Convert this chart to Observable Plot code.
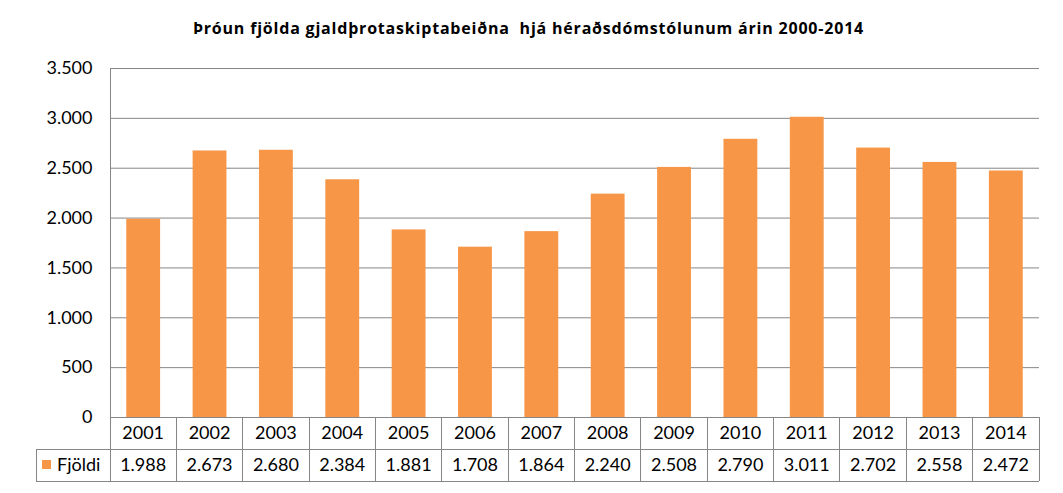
<!DOCTYPE html>
<html>
<head>
<meta charset="utf-8">
<script src="https://cdn.jsdelivr.net/npm/d3@7"></script>
<script src="https://cdn.jsdelivr.net/npm/@observablehq/plot@0.6"></script>
<style>
  html, body { margin: 0; padding: 0; background: #fff; }
  #title { height: 55px; box-sizing: border-box; padding-top: 18px; line-height: 20px; text-align: center; font-family: "Open Sans", Lato, sans-serif; font-weight: bold; font-size: 16px; letter-spacing: 0.8px; color: #000; padding-right: 6px; white-space: pre; }
  #chart svg { display: block; }
</style>
</head>
<body>
<div id="title">Þróun fjölda gjaldþrotaskiptabeiðna  hjá héraðsdómstólunum árin 2000-2014</div>
<div id="chart"></div>
<script>
const years = ["2001","2002","2003","2004","2005","2006","2007","2008","2009","2010","2011","2012","2013","2014"];
const counts = [1988, 2673, 2680, 2384, 1881, 1708, 1864, 2240, 2508, 2790, 3011, 2702, 2558, 2472];
const yTicks = [0, 500, 1000, 1500, 2000, 2500, 3000, 3500];
const seriesName = "Fjöldi";

const data = years.map((y, i) => ({year: y, value: counts[i]}));
const fmt = d3.formatLocale({decimal: ",", thousands: ".", grouping: [3], currency: ["", " kr"]}).format(",d");
const FONT = 'Lato, "Liberation Sans", sans-serif';
const FS = 18;
const GRID = "#868686";
const BAR = "#F79646";

const plot = Plot.plot({
  width: 1063,
  height: 438,
  marginTop: 13,
  marginBottom: 76,
  marginLeft: 110,
  marginRight: 24,
  style: {fontFamily: FONT, fontSize: FS + "px", color: "#000", background: "#fff"},
  x: {domain: years, paddingInner: 0.49, paddingOuter: 0.245, round: false, axis: null},
  y: {domain: [0, 3500], axis: null},
  marks: [
    Plot.gridY(yTicks, {stroke: GRID, strokeOpacity: 1, strokeWidth: 1}),
    Plot.barY(data, {x: "year", y: "value", fill: BAR}),
    Plot.frame({anchor: "left", stroke: GRID, strokeOpacity: 1}),
    Plot.axisY(yTicks, {tickFormat: fmt, tickSize: 0, tickPadding: 18, label: null, fontSize: FS})
  ]
});
document.getElementById("chart").appendChild(plot);

// Data table under the chart, positioned with the plot's own scales
const xs = plot.scale("x");
const ys = plot.scale("y");
const step = xs.step;
const x0 = xs.range[0];
const x1 = x0 + step * years.length;
const yBase = ys.apply(0);
const rowH = 32;
const legendLeft = 36;
const svg = d3.select(plot);
const g = svg.append("g").attr("stroke", GRID).attr("stroke-width", 1).attr("shape-rendering", "crispEdges");
g.append("line").attr("x1", x0).attr("x2", x1).attr("y1", yBase).attr("y2", yBase);
g.append("line").attr("x1", legendLeft).attr("x2", x1).attr("y1", yBase + rowH).attr("y2", yBase + rowH);
g.append("line").attr("x1", legendLeft).attr("x2", x1).attr("y1", yBase + 2 * rowH).attr("y2", yBase + 2 * rowH);
g.append("line").attr("x1", legendLeft).attr("x2", legendLeft).attr("y1", yBase + rowH).attr("y2", yBase + 2 * rowH);
for (let i = 0; i <= years.length; i++) {
  const xx = x0 + i * step;
  g.append("line").attr("x1", xx).attr("x2", xx).attr("y1", yBase).attr("y2", yBase + 2 * rowH);
}
const t = svg.append("g").attr("font-family", FONT).attr("font-size", FS).attr("fill", "#000").attr("text-anchor", "middle");
years.forEach((yr, i) => {
  const cx = xs.apply(yr) + xs.bandwidth / 2;
  t.append("text").attr("x", cx).attr("y", yBase + rowH / 2).attr("dy", "0.35em").text(yr);
  t.append("text").attr("x", cx).attr("y", yBase + rowH * 1.5).attr("dy", "0.35em").text(fmt(counts[i]));
});
svg.append("rect").attr("x", 42).attr("y", yBase + rowH * 1.5 - 5).attr("width", 9).attr("height", 9).attr("fill", BAR);
svg.append("text").attr("x", 57).attr("y", yBase + rowH * 1.5).attr("dy", "0.35em").attr("text-anchor", "start")
  .attr("font-family", FONT).attr("font-size", FS).attr("fill", "#000").text(seriesName);
</script>
</body>
</html>
